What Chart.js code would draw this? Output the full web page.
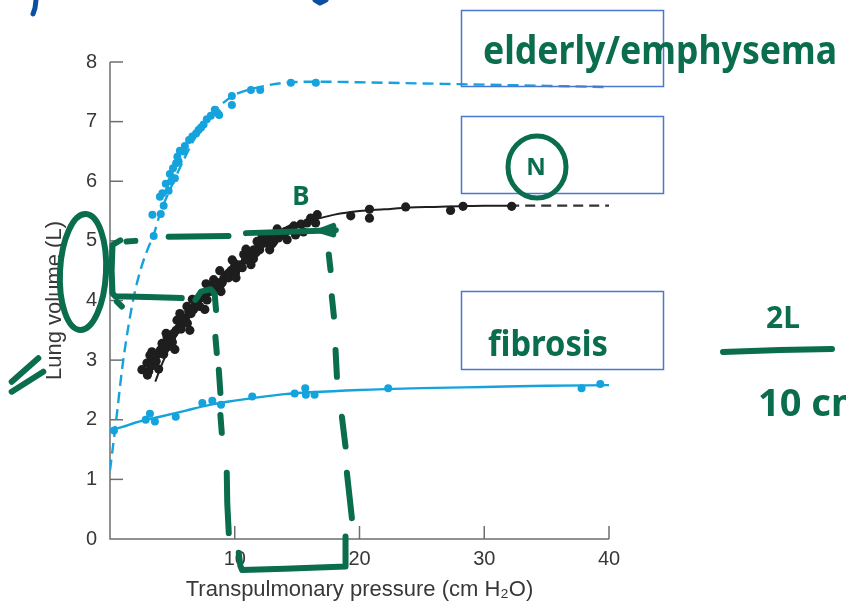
<!DOCTYPE html>
<html>
<head>
<meta charset="utf-8">
<script src="https://cdn.jsdelivr.net/npm/chart.js@4.4.1/dist/chart.umd.min.js"></script>
<style>
  html, body { margin: 0; padding: 0; background: #fff; }
  .chart-container { position: relative; width: 846px; height: 606px; }
</style>
</head>
<body>
<div class="chart-container"><canvas id="lungChart" width="846" height="606"></canvas></div>
<script>
// Pressure-volume curves: emphysema (top), normal (middle), fibrosis (bottom)
const emphysemaP = [3.5, 3.4, 4.07, 4.3, 4.0, 4.2, 4.7, 4.47, 5.2, 4.8, 4.9, 5.05, 5.5, 5.3, 5.4, 5.6, 5.9, 6.0, 6.34, 6.6, 6.9, 7.1, 7.3, 7.5, 7.76, 8.08, 8.4, 8.6, 8.75, 9.77, 9.77, 11.3, 12.04, 14.5, 16.5];
const emphysemaV = [5.08, 5.44, 5.45, 5.59, 5.74, 5.8, 5.84, 5.96, 6.05, 6.12, 6.0, 6.22, 6.33, 6.3, 6.41, 6.51, 6.5, 6.59, 6.69, 6.75, 6.8, 6.86, 6.9, 6.95, 7.04, 7.1, 7.2, 7.15, 7.11, 7.43, 7.28, 7.53, 7.53, 7.65, 7.65];
const emphysemaFitP = [0, 0.5, 1, 1.5, 2, 2.5, 3, 3.5, 4, 5, 6, 7, 8, 9, 10, 12, 14, 17, 20, 30, 40];
const emphysemaFitV = [1.15, 2.0, 2.9, 3.6, 4.15, 4.55, 4.85, 5.1, 5.45, 5.95, 6.4, 6.8, 7.1, 7.3, 7.45, 7.58, 7.65, 7.67, 7.66, 7.62, 7.58];

const normalP = [2.56, 3.1, 2.96, 3.0, 3.3, 3.5, 3.36, 3.7, 3.8, 4.04, 4.17, 4.3, 4.4, 4.7, 4.57, 4.6, 4.9, 5.0, 5.1, 5.3, 5.51, 5.37, 5.7, 5.8, 6.04, 6.2, 6.31, 6.17, 6.5, 6.7, 6.85, 7.0, 7.2, 7.25, 7.4, 7.5, 7.78, 7.65, 8.0, 8.1, 8.31, 8.31, 8.5, 8.6, 8.85, 9.0, 9.12, 9.3, 9.5, 9.52, 9.7, 9.92, 10.0, 10.06, 10.3, 10.46, 10.6, 10.86, 10.72, 11.0, 11.1, 11.26, 11.5, 11.53, 11.7, 11.93, 11.79, 12.0, 12.1, 12.33, 12.5, 12.6, 12.73, 13.0, 13.27, 13.13, 13.5, 13.67, 13.9, 14.07, 14.3, 14.5, 14.74, 14.87, 15.3, 15.8, 16.08, 16.61, 16.48, 19.3, 20.8, 20.8, 23.7, 27.3, 28.3, 32.2,
  3.2, 4.5, 5.6, 6.6, 7.7, 8.8, 9.8, 10.9, 12.2, 13.4, 3.9, 5.2, 6.4, 7.6, 8.9, 10.1, 11.3, 12.8, 14.2, 15.5];
const normalV = [2.84, 2.81, 2.95, 2.75, 2.9, 3.03, 3.14, 2.98, 3.1, 3.17, 3.28, 3.1, 3.2, 3.23, 3.39, 3.3, 3.35, 3.3, 3.45, 3.5, 3.54, 3.67, 3.52, 3.62, 3.7, 3.62, 3.81, 3.9, 3.78, 3.85, 3.93, 3.95, 3.9, 4.04, 4.12, 4.08, 4.01, 4.12, 4.15, 4.25, 4.21, 4.35, 4.18, 4.3, 4.26, 4.3, 4.37, 4.42, 4.38, 4.46, 4.5, 4.54, 4.62, 4.46, 4.55, 4.6, 4.55, 4.68, 4.77, 4.72, 4.8, 4.74, 4.7, 4.85, 4.8, 4.9, 4.99, 4.85, 4.95, 4.96, 5.05, 4.98, 5.05, 4.95, 5.07, 4.99, 5.05, 5.13, 5.1, 5.16, 5.18, 5.2, 5.25, 5.1, 5.28, 5.3, 5.38, 5.44, 5.3, 5.42, 5.53, 5.38, 5.57, 5.51, 5.58, 5.58,
  3.08, 3.45, 3.78, 4.02, 4.28, 4.5, 4.68, 4.86, 5.08, 5.2, 2.85, 3.18, 3.5, 3.85, 4.15, 4.38, 4.6, 4.85, 5.02, 5.15];
const normalFitP = [3.63, 4.2, 5, 6, 7, 8, 9, 10, 11, 12, 13, 14, 15, 16, 17, 18, 20, 22, 24, 26, 28, 30, 32];
const normalFitV = [2.64, 2.95, 3.3, 3.62, 3.92, 4.15, 4.37, 4.55, 4.72, 4.88, 5.03, 5.15, 5.25, 5.33, 5.39, 5.44, 5.5, 5.53, 5.56, 5.57, 5.58, 5.59, 5.59];
const normalTailP = [32, 36, 40];
const normalTailV = [5.59, 5.59, 5.59];

const fibrosisP = [0.32, 2.86, 3.2, 3.6, 5.27, 7.4, 8.2, 8.9, 11.4, 14.8, 15.65, 15.7, 16.4, 22.3, 37.8, 39.3];
const fibrosisV = [1.82, 2.0, 2.1, 1.97, 2.05, 2.28, 2.32, 2.25, 2.39, 2.44, 2.53, 2.42, 2.42, 2.53, 2.53, 2.6];
const fibrosisFitP = [0, 1, 2, 4, 6, 8, 10, 12, 14, 16, 20, 25, 30, 35, 40];
const fibrosisFitV = [1.82, 1.88, 1.95, 2.05, 2.15, 2.25, 2.32, 2.38, 2.43, 2.46, 2.5, 2.53, 2.55, 2.57, 2.58];

const xTicks = [0, 10, 20, 30, 40];
const yTicks = [0, 1, 2, 3, 4, 5, 6, 7, 8];

const cyan = "#15a3dd";
const black = "#1e1e1e";
const axisGray = "#6e6e6e";
const labelGray = "#383838";
const ink = "#0a6d4d";
const boxBlue = "#4a78cf";

const toPoints = (xs, ys) => xs.map((x, i) => ({ x: x, y: ys[i] }));

// handwritten guide strokes, in (pressure, volume) units
const guideStrokes = [
  [[0.83, 5.01], [0.2, 4.93], [0.13, 4.5], [0.2, 4.12], [0.43, 4.07], [3, 4.06], [5.75, 4.04]],
  [[0.55, 3.98], [0.95, 3.9]],
  [[1.33, 4.99], [2.03, 5.0]],
  [[4.7, 5.07], [9.5, 5.08]],
  [[10.9, 5.13], [18.1, 5.18]],
  [[17.9, 5.25], [16.9, 5.17], [17.9, 5.11]],
  [[6.85, 4.01], [7.3, 4.15], [8.07, 4.19], [8.39, 4.11], [8.5, 3.84]],
  [[8.45, 3.39], [8.56, 3.12]],
  [[8.72, 2.84], [8.85, 2.45]],
  [[8.85, 2.08], [8.96, 1.78]],
  [[9.36, 1.11], [9.4, 0.6], [9.52, 0.1]],
  [[17.54, 4.77], [17.68, 4.51]],
  [[17.78, 4.07], [17.95, 3.73]],
  [[18.08, 3.17], [18.19, 2.72]],
  [[18.59, 2.05], [18.88, 1.55]],
  [[18.99, 1.11], [19.39, 0.35]],
  [[10.32, -0.23], [10.45, -0.45], [10.59, -0.52], [14, -0.5], [18.88, -0.46], [18.88, 0.04]],
];

const pen = (ctx, pts) => {
  ctx.beginPath();
  pts.forEach(([x, y], i) => (i ? ctx.lineTo(x, y) : ctx.moveTo(x, y)));
  ctx.stroke();
};

// axis lines with inward ticks
const axesPlugin = {
  id: "inwardAxes",
  beforeDatasetsDraw(chart) {
    const { ctx, chartArea: a, scales: { x, y } } = chart;
    ctx.save();
    ctx.strokeStyle = axisGray;
    ctx.lineWidth = 1.5;
    pen(ctx, [[a.left, a.top], [a.left, a.bottom], [a.right, a.bottom]]);
    yTicks.slice(1).forEach((v) => {
      const py = y.getPixelForValue(v);
      pen(ctx, [[a.left, py], [a.left + 13, py]]);
    });
    xTicks.slice(1).forEach((v) => {
      const px = x.getPixelForValue(v);
      pen(ctx, [[px, a.bottom], [px, a.bottom - 13]]);
    });
    ctx.restore();
  },
};

// boxes and pen notes drawn over the chart
const notesPlugin = {
  id: "notes",
  afterDraw(chart) {
    const { ctx, scales: { x, y } } = chart;
    const at = ([p, v]) => [x.getPixelForValue(p), y.getPixelForValue(v)];
    ctx.save();

    ctx.strokeStyle = boxBlue;
    ctx.lineWidth = 1.5;
    ctx.strokeRect(461.5, 10.5, 202, 76);
    ctx.strokeRect(461.5, 116.5, 202, 77);
    ctx.strokeRect(461.5, 291.5, 202, 78);

    ctx.strokeStyle = ink;
    ctx.fillStyle = ink;
    ctx.lineWidth = 6;
    ctx.lineCap = "round";
    ctx.lineJoin = "round";
    guideStrokes.forEach((s) => pen(ctx, s.map(at)));

    ctx.beginPath();
    ctx.ellipse(83, 272, 23, 58, 0.05, 0, Math.PI * 2);
    ctx.stroke();
    pen(ctx, [[11.7, 381.7], [38.3, 358.3]]);
    pen(ctx, [[11.7, 391.7], [43.3, 371.7]]);

    ctx.lineWidth = 5;
    ctx.beginPath();
    ctx.ellipse(537, 167, 29, 31, 0, 0, Math.PI * 2);
    ctx.stroke();
    ctx.lineWidth = 6;
    pen(ctx, [[723, 352], [780, 350], [832, 349]]);

    ctx.textBaseline = "alphabetic";
    ctx.textAlign = "left";
    ctx.font = "bold 40px 'Noto Sans'";
    ctx.fillText("elderly/emphysema", 483, 64, 354);
    ctx.font = "bold 36px 'Noto Sans'";
    ctx.fillText("fibrosis", 488, 356, 120);
    ctx.font = "bold 38px 'Noto Sans'";
    ctx.fillText("10 cm", 758, 416);
    ctx.textAlign = "center";
    ctx.font = "bold 30px 'Noto Sans'";
    ctx.fillText("2L", 783, 328);
    ctx.textBaseline = "middle";
    ctx.font = "bold 24px 'Noto Sans'";
    ctx.fillText("N", 536, 168);
    ctx.font = "bold 26px 'Noto Sans'";
    ctx.fillText("B", 301, 198);

    ctx.strokeStyle = "#0b4fa3";
    ctx.lineWidth = 5;
    pen(ctx, [[36, 0], [35, 8], [33, 14]]);
    pen(ctx, [[315, 0], [320, 3], [326, 0]]);
    ctx.restore();
  },
};

const tickFont = { family: "'Liberation Sans', Arial, sans-serif", size: 20 };
const titleFont = { family: "'Liberation Sans', Arial, sans-serif", size: 22 };

const canvasCtx = document.querySelector("#lungChart").getContext("2d");

const lungChart = new Chart(canvasCtx, {
  type: "scatter",
  data: {
    datasets: [
      {
        label: "Normal",
        data: toPoints(normalP, normalV),
        backgroundColor: black,
        borderWidth: 0,
        pointRadius: 4.6,
      },
      {
        label: "Emphysema",
        data: toPoints(emphysemaP, emphysemaV),
        backgroundColor: cyan,
        borderWidth: 0,
        pointRadius: 4,
      },
      {
        label: "Fibrosis",
        data: toPoints(fibrosisP, fibrosisV),
        backgroundColor: cyan,
        borderWidth: 0,
        pointRadius: 4,
      },
      {
        label: "Normal fit",
        data: toPoints(normalFitP, normalFitV),
        showLine: true,
        borderColor: black,
        borderWidth: 2,
        pointRadius: 0,
        cubicInterpolationMode: "monotone",
      },
      {
        label: "Normal tail",
        data: toPoints(normalTailP, normalTailV),
        showLine: true,
        borderColor: "#333",
        borderWidth: 2.2,
        borderDash: [10, 6],
        pointRadius: 0,
      },
      {
        label: "Emphysema fit",
        data: toPoints(emphysemaFitP, emphysemaFitV),
        showLine: true,
        borderColor: cyan,
        borderWidth: 2.4,
        borderDash: [11, 6],
        pointRadius: 0,
        cubicInterpolationMode: "monotone",
      },
      {
        label: "Fibrosis fit",
        data: toPoints(fibrosisFitP, fibrosisFitV),
        showLine: true,
        borderColor: cyan,
        borderWidth: 2.4,
        pointRadius: 0,
        cubicInterpolationMode: "monotone",
      },
    ],
  },
  options: {
    responsive: false,
    animation: false,
    devicePixelRatio: 1,
    layout: { padding: { top: 62, right: 237, left: 0, bottom: 0 } },
    plugins: { legend: { display: false }, tooltip: { enabled: false } },
    scales: {
      x: {
        type: "linear",
        position: "bottom",
        min: 0,
        max: 40,
        afterFit: (s) => { s.height = 67; },
        afterBuildTicks: (s) => { s.ticks = xTicks.map((v) => ({ value: v })); },
        grid: { display: false, drawTicks: false },
        border: { display: false },
        ticks: {
          padding: 8,
          color: labelGray,
          font: tickFont,
          callback: (v) => (v === 0 ? "" : v),
        },
        title: {
          display: true,
          text: "Transpulmonary pressure (cm H₂O)",
          color: labelGray,
          font: titleFont,
          padding: { top: 0, bottom: 3 },
        },
      },
      y: {
        type: "linear",
        min: 0,
        max: 8,
        afterFit: (s) => { s.width = 110; },
        afterBuildTicks: (s) => { s.ticks = yTicks.map((v) => ({ value: v })); },
        grid: { display: false, drawTicks: false },
        border: { display: false },
        ticks: { padding: 13, color: labelGray, font: tickFont },
        title: {
          display: true,
          text: "Lung volume (L)",
          color: labelGray,
          font: titleFont,
          padding: { top: 42, bottom: 0 },
        },
      },
    },
  },
  plugins: [axesPlugin, notesPlugin],
});
</script>
</body>
</html>
